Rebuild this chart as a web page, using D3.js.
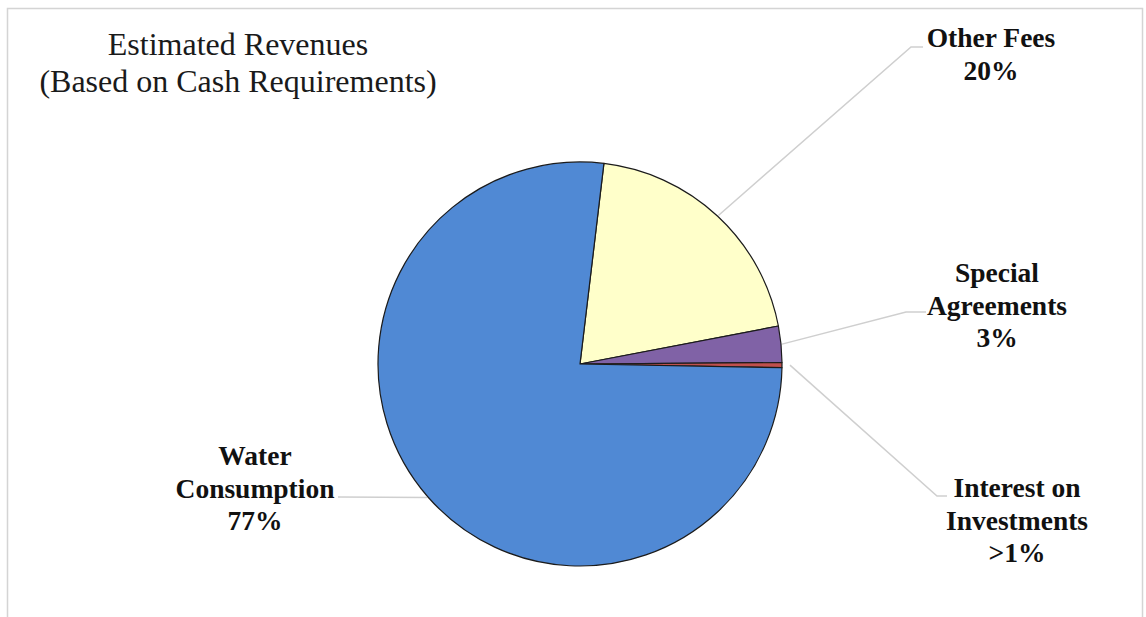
<!DOCTYPE html>
<html>
<head>
<meta charset="utf-8">
<script src="https://cdn.jsdelivr.net/npm/d3@7"></script>
<style>
    html, body { margin: 0; padding: 0; background: #fff; }
    svg { display: block; }
</style>
</head>
<body>
<svg id="chart" width="1146" height="617"></svg>
<script>
// chart data
const categories = ['Other Fees', 'Special Agreements', 'Interest on Investments', 'Water Consumption'];
const shares = [20.1, 2.9, 0.4, 76.6];
const shareLabels = ['20%', '3%', '>1%', '77%'];
const labelLines = [
    ['Other Fees'],
    ['Special', 'Agreements'],
    ['Interest on', 'Investments'],
    ['Water', 'Consumption']
];
const titleLines = ['Estimated Revenues', '(Based on Cash Requirements)'];

// styling / layout
const sliceColors = ['#FFFFCA', '#8062A6', '#C0504D', '#5089D4'];
const cx = 580;
const cy = 364;
const radius = 202;
const startDeg = 6.8;
const labelFont = 27.5;
const lineHeight = 32.5;

// label block centre x / first baseline y, and leader elbow + end
const labelPlace = [
    {x: 991, y: 47, elbow: [911, 47], end: [923, 47]},
    {x: 997, y: 282, elbow: [906, 312], end: [926, 312]},
    {x: 1017, y: 497, elbow: [937, 496], end: [947, 496]},
    {x: 255, y: 465, elbow: [338, 497], end: [338, 497]}
];

const svg = d3.select('#chart');

svg.append('rect')
    .attr('x', 7.5)
    .attr('y', 8.5)
    .attr('width', 1135)
    .attr('height', 640)
    .attr('fill', '#fff')
    .attr('stroke', '#d4d4d4')
    .attr('stroke-width', 1.5);

// title
svg.append('text')
    .attr('x', 238)
    .attr('y', 55)
    .attr('text-anchor', 'middle')
    .attr('font-family', '"Liberation Serif", "Times New Roman", serif')
    .attr('font-size', 32)
    .attr('fill', '#1a1a1a')
    .selectAll('tspan')
    .data(titleLines)
    .enter()
    .append('tspan')
    .attr('x', 238)
    .attr('dy', (_, i) => i === 0 ? 0 : 37)
    .text(d => d);

const pie = d3.pie()
    .sort(null)
    .value(d => d)
    .startAngle(startDeg * Math.PI / 180)
    .endAngle(startDeg * Math.PI / 180 + 2 * Math.PI);

const arcs = pie(shares);

const arc = d3.arc()
    .innerRadius(0)
    .outerRadius(radius);

const root = svg.append('g')
    .attr('transform', `translate(${cx},${cy})`);

root.selectAll('path.slice')
    .data(arcs)
    .enter()
    .append('path')
    .attr('class', 'slice')
    .attr('d', arc)
    .attr('fill', (_, i) => sliceColors[i])
    .attr('stroke', '#1b1b1b')
    .attr('stroke-width', 1.2)
    .attr('stroke-linejoin', 'round');

// leader lines
const edgePoint = (d, r) => {
    const a = (d.startAngle + d.endAngle) / 2;
    return [cx + r * Math.sin(a), cy - r * Math.cos(a)];
};

svg.append('g')
    .selectAll('polyline')
    .data(arcs)
    .enter()
    .append('polyline')
    .attr('points', (d, i) => {
        const p = labelPlace[i];
        const s = edgePoint(d, i === 2 ? radius + 8 : radius + 1);
        return [s, p.elbow, p.end].map(q => q.join(',')).join(' ');
    })
    .attr('fill', 'none')
    .attr('stroke', '#cfcfcf')
    .attr('stroke-width', 1.5);

// labels
const labels = svg.append('g')
    .selectAll('text')
    .data(categories)
    .enter()
    .append('text')
    .attr('text-anchor', 'middle')
    .attr('font-family', '"Liberation Serif", "Times New Roman", serif')
    .attr('font-weight', 'bold')
    .attr('font-size', labelFont)
    .attr('fill', '#111');

labels.each(function(_, i) {
    const t = d3.select(this);
    const lines = labelLines[i].concat([shareLabels[i]]);
    lines.forEach((ln, j) => {
        t.append('tspan')
            .attr('x', labelPlace[i].x)
            .attr('y', labelPlace[i].y + j * lineHeight)
            .text(ln);
    });
});
</script>
</body>
</html>
